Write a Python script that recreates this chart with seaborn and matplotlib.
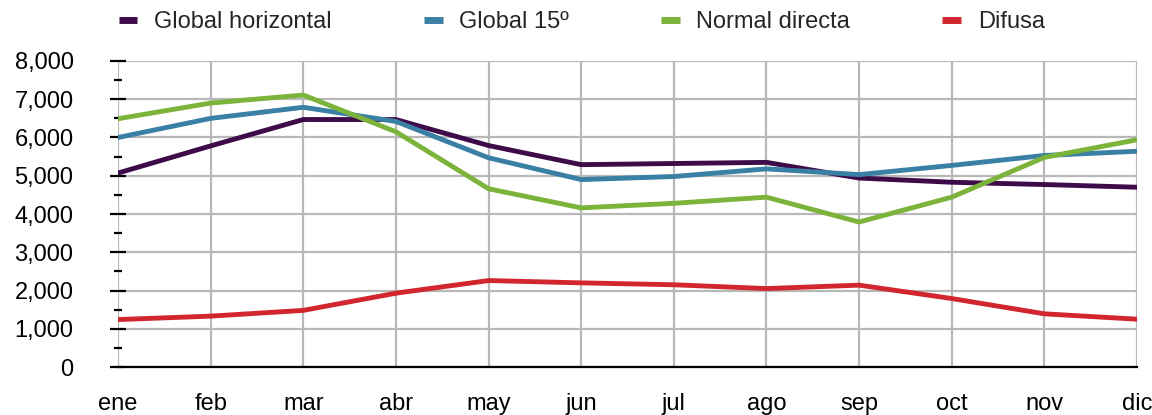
import matplotlib
matplotlib.use("Agg")
import matplotlib.pyplot as plt
from matplotlib.ticker import MultipleLocator, FuncFormatter
import seaborn as sns
import pandas as pd

months = ["ene", "feb", "mar", "abr", "may", "jun",
          "jul", "ago", "sep", "oct", "nov", "dic"]

global_horizontal = [5070, 5780, 6470, 6470, 5790, 5290, 5320, 5350, 4940, 4830, 4770, 4700]
global_15 = [6000, 6500, 6790, 6420, 5470, 4900, 4980, 5180, 5030, 5270, 5530, 5640]
normal_directa = [6490, 6900, 7110, 6150, 4660, 4160, 4280, 4440, 3790, 4440, 5480, 5940]
difusa = [1240, 1330, 1480, 1930, 2260, 2200, 2150, 2050, 2140, 1790, 1390, 1250]

series_names = ["Global horizontal", "Global 15º", "Normal directa", "Difusa"]
series_values = [global_horizontal, global_15, normal_directa, difusa]
colors = ["#3d0b4a", "#3a7fa4", "#7cb33b", "#d2262f"]

rows = []
for name, vals in zip(series_names, series_values):
    for i, (m, v) in enumerate(zip(months, vals)):
        rows.append({"pos": i, "mes": m, "valor": v, "serie": name})
df = pd.DataFrame(rows)

sns.set_style("white")
plt.rcParams["font.family"] = ["Liberation Sans", "DejaVu Sans"]

fig = plt.figure(figsize=(11.52, 4.15), dpi=100)
ax = fig.add_axes([118 / 1152, 48 / 415, (1137 - 118) / 1152, (367 - 61) / 415])

sns.lineplot(data=df, x="pos", y="valor", hue="serie", hue_order=series_names,
             palette=dict(zip(series_names, colors)), linewidth=3.5,
             ax=ax, legend=False, zorder=3)

ax.set_xlim(0, 11)
ax.set_ylim(0, 8000)
ax.set_xticks(range(len(months)))
ax.set_xticklabels(months)
ax.yaxis.set_major_locator(MultipleLocator(1000))
ax.yaxis.set_minor_locator(MultipleLocator(500))
ax.yaxis.set_major_formatter(FuncFormatter(lambda v, p: f"{int(v):,}"))
ax.set_xlabel("")
ax.set_ylabel("")

ax.grid(True, which="major", color="#b8b8b8", linewidth=1.6, zorder=0)
ax.set_axisbelow(True)

for side in ["top", "right", "left"]:
    ax.spines[side].set_visible(False)
ax.spines["bottom"].set_color("black")
ax.spines["bottom"].set_linewidth(1.6)
ax.spines["bottom"].set_zorder(4)

ax.tick_params(axis="y", which="major", direction="inout", length=12, width=1.6,
               color="black", labelsize=17, pad=26, left=True)
ax.tick_params(axis="y", which="minor", direction="inout", length=6, width=1.6,
               color="black", left=True)
ax.tick_params(axis="x", length=0, labelsize=17, pad=19)
for lab in ax.get_yticklabels() + ax.get_xticklabels():
    lab.set_color("black")

handles = [plt.Line2D([], [], color=c, linewidth=5, solid_capstyle="butt") for c in colors]
fig.legend(handles, series_names, loc="center left",
           bbox_to_anchor=(102 / 1152, 1 - 22 / 415), ncol=4, frameon=False,
           fontsize=17, handlelength=0.8, handletextpad=0.7, columnspacing=3.9,
           borderpad=0.2)

fig.savefig("out.png", dpi=100)
